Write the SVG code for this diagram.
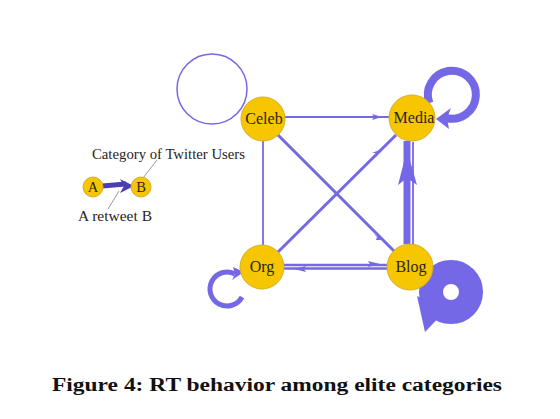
<svg xmlns="http://www.w3.org/2000/svg" width="560" height="419" viewBox="0 0 560 419">
<style>
.node{fill:#F6C700;stroke:#D6AE2A;stroke-width:1}
.lbl{font-family:"Liberation Serif",serif;font-size:16px;fill:#2a2418;text-anchor:middle}
.e{stroke:#7468E6;fill:none;stroke-linecap:butt}
.ah{fill:#7468E6}
.leg{font-family:"Liberation Serif",serif;font-size:14.5px;fill:#2a2418}
</style>
<rect width="560" height="419" fill="#ffffff"/>
<g id="connectors">
  <circle cx="212" cy="89" r="35" class="e" stroke-width="1.5" stroke="#6E64D4"/>
  <line x1="285" y1="117" x2="390" y2="117" class="e" stroke-width="2" stroke="#6A5ED8"/>
  <polygon class="ah" points="382,117 372,114 374,117 372,120"/>
  <line x1="263" y1="141" x2="263" y2="245" class="e" stroke-width="1.8" stroke="#6E64D4"/>
  <line x1="278" y1="135" x2="395" y2="252" class="e" stroke-width="3"/>
  <polygon class="ah" points="383,240 374,234 377,237 376,240"/>
  <line x1="278" y1="252" x2="396" y2="135" class="e" stroke-width="3"/>
  <polygon class="ah" points="382,149 372,153 376,153 376,157"/>
  <line x1="284" y1="265" x2="388" y2="265" class="e" stroke-width="2.5"/>
  <line x1="284" y1="268.5" x2="388" y2="268.5" class="e" stroke-width="2.5"/>
  <polygon class="ah" points="294,269 306,266 304,269 306,272"/>
  <polygon class="ah" points="380,264 368,261 370,264 368,267"/>
  <line x1="407" y1="244" x2="407" y2="141" class="e" stroke-width="7"/>
  <polygon class="ah" points="407,150 398,185 407,178 417,185"/>
  <line x1="413" y1="142" x2="413" y2="245" class="e" stroke-width="1.8"/>
  <path d="M429.4,103.2 A24,24 0 1,1 446,118" class="e" stroke-width="8"/>
  <polygon class="ah" points="436,119 451,108 447,118 449,129"/>
  <path d="M242,297 A17,17 0 1,1 235,274" class="e" stroke-width="5"/>
  <polygon class="ah" points="244,272 233,267 235,274 232,280"/>
  <circle cx="451" cy="292" r="20" class="e" stroke-width="24"/>
  <polygon class="ah" points="417,296 446,310 425,332"/>
</g>
<g id="node-celeb">
  <circle cx="263" cy="119" r="22" class="node"/>
  <text x="264" y="124" class="lbl">Celeb</text>
</g>
<g id="node-media">
  <circle cx="412" cy="118" r="23" class="node"/>
  <text x="414" y="123" class="lbl">Media</text>
</g>
<g id="node-org">
  <circle cx="262" cy="267" r="22" class="node"/>
  <text x="262" y="272" class="lbl">Org</text>
</g>
<g id="node-blog">
  <circle cx="410" cy="267" r="23" class="node"/>
  <text x="411" y="272" class="lbl">Blog</text>
</g>
<g id="legend">
  <line x1="157" y1="160" x2="143" y2="178" stroke="#9a9a9a" stroke-width="1"/>
  <line x1="119" y1="191" x2="108" y2="209" stroke="#9a9a9a" stroke-width="1"/>
  <path d="M102,186 L126,184" stroke="#4A3DB5" stroke-width="5" fill="none"/>
  <polygon points="134,186 120,179 124,186 120,193" fill="#4A3DB5"/>
  <circle cx="93" cy="187" r="10" class="node"/>
  <text x="93" y="192" class="leg" text-anchor="middle">A</text>
  <circle cx="141" cy="187" r="10" class="node"/>
  <text x="141" y="192" class="leg" text-anchor="middle">B</text>
  <text x="92" y="159" class="leg" textLength="153" lengthAdjust="spacingAndGlyphs">Category of Twitter Users</text>
  <text x="78" y="221" class="leg" textLength="74" lengthAdjust="spacingAndGlyphs">A retweet B</text>
</g>
<text x="277" y="391" font-family="Liberation Serif,serif" font-weight="bold" font-size="18" fill="#111" text-anchor="middle" textLength="450" lengthAdjust="spacingAndGlyphs">Figure 4: RT behavior among elite categories</text>
</svg>
